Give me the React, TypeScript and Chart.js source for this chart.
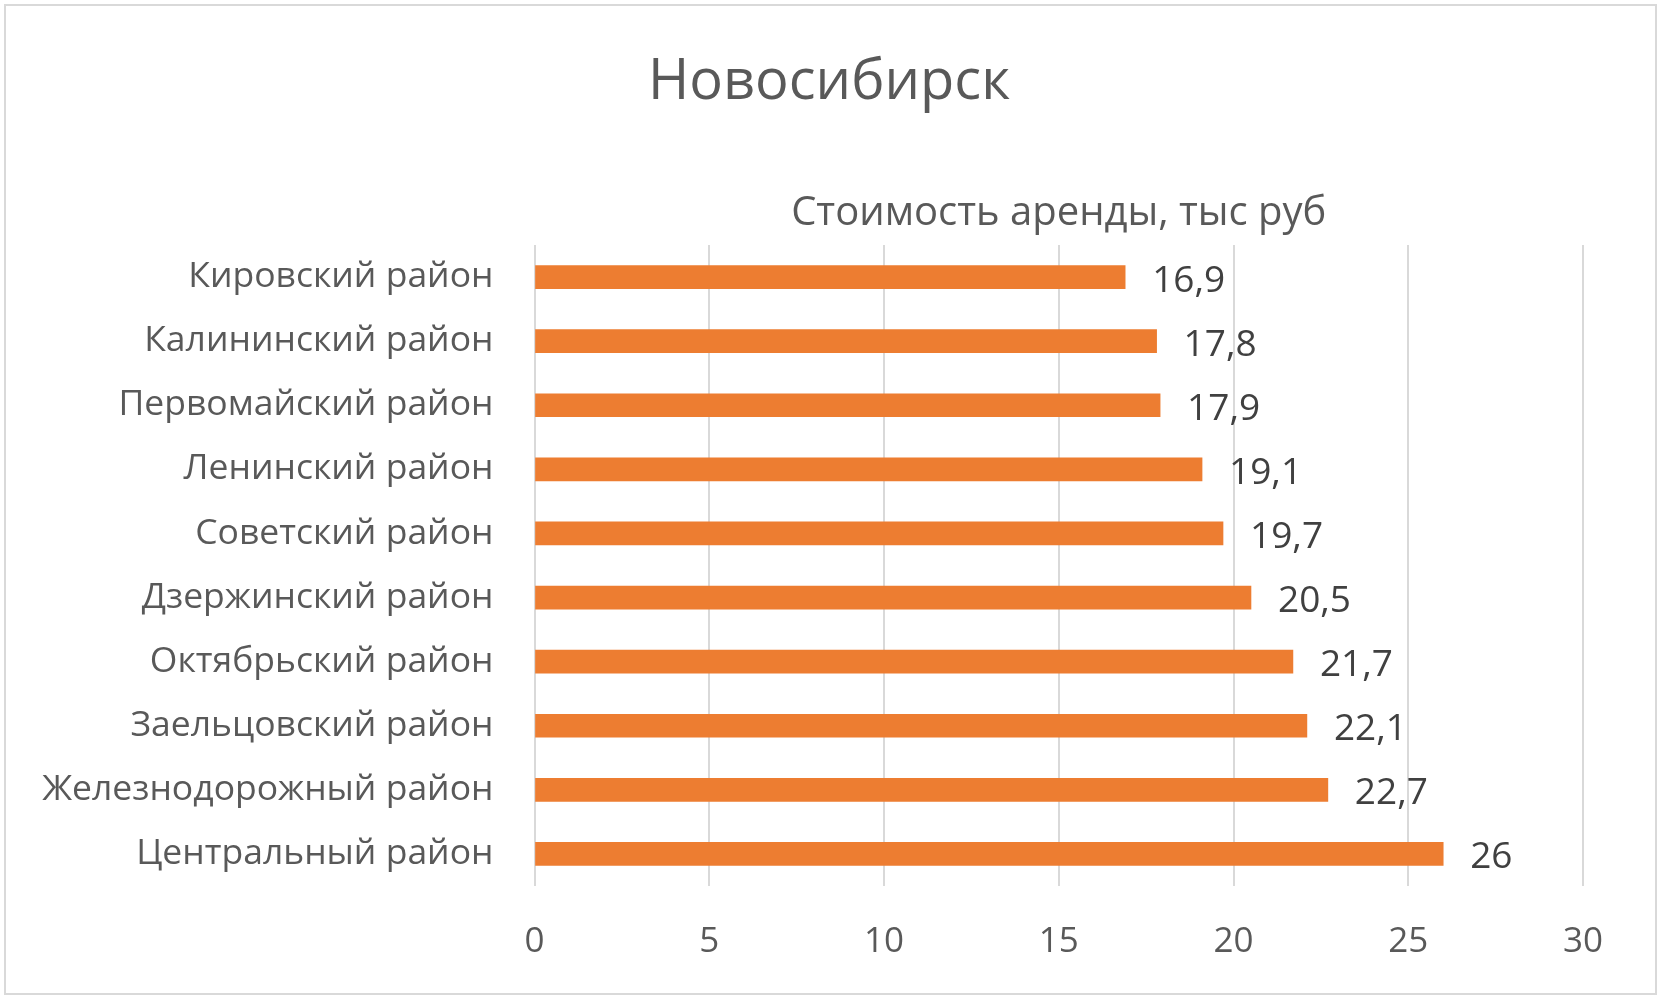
import React, { useEffect, useRef } from "react";
import { Chart, registerables } from "chart.js";

Chart.register(...registerables);

const chartTitle = "Новосибирск";
const axisTitle = "Стоимость аренды, тыс руб";
const categories = [
  "Кировский район",
  "Калининский район",
  "Первомайский район",
  "Ленинский район",
  "Советский район",
  "Дзержинский район",
  "Октябрьский район",
  "Заельцовский район",
  "Железнодорожный район",
  "Центральный район",
];
const rentValues = [16.9, 17.8, 17.9, 19.1, 19.7, 20.5, 21.7, 22.1, 22.7, 26];
const xMin = 0;
const xMax = 30;
const xStep = 5;

const FONT = "'Open Sans', 'Noto Sans', sans-serif";
const W = 1663;
const H = 1003;

const fmt = (v: number) => String(v).replace(".", ",");

const labelPlugin = {
  id: "valueLabels",
  afterDatasetsDraw(chart: any) {
    const ctx = chart.ctx;
    const meta = chart.getDatasetMeta(0);
    ctx.save();
    ctx.font = `37px ${FONT}`;
    ctx.fillStyle = "#404040";
    ctx.textAlign = "left";
    ctx.textBaseline = "middle";
    meta.data.forEach((bar: any, i: number) => {
      ctx.fillText(fmt(rentValues[i]), bar.x + 27, bar.y + 4);
    });
    const ca = chart.chartArea;
    ctx.fillStyle = "#595959";
    ctx.textAlign = "center";
    ctx.font = `40px ${FONT}`;
    ctx.fillText(axisTitle, (ca.left + ca.right) / 2, 214);
    ctx.font = `56px ${FONT}`;
    ctx.fillText(chartTitle, 829, 83);
    ctx.restore();
  },
};

export default function App() {
  const ref = useRef<HTMLCanvasElement | null>(null);
  useEffect(() => {
    if (!ref.current) return;
    const chart = new Chart(ref.current, {
      type: "bar",
      data: {
        labels: categories,
        datasets: [
          {
            data: rentValues,
            backgroundColor: "#ED7D31",
            borderWidth: 0,
            barThickness: 23,
          },
        ],
      },
      options: {
        indexAxis: "y",
        responsive: false,
        animation: false,
        layout: { padding: { left: 0, right: 80, top: 245, bottom: 0 } },
        plugins: {
          legend: { display: false },
          tooltip: { enabled: false },
          title: { display: false },
        },
        scales: {
          x: {
            min: xMin,
            max: xMax,
            ticks: {
              stepSize: xStep,
              color: "#595959",
              font: { family: FONT, size: 35 },
              padding: 35,
            },
            grid: { color: "#d9d9d9", lineWidth: 2, drawTicks: false },
            border: { display: false },
            afterFit: (s: any) => {
              s.height = 117;
            },
          },
          y: {
            ticks: {
              color: "#595959",
              font: { family: FONT, size: 35.5 },
              padding: 41,
            },
            grid: { display: false, drawTicks: false },
            border: { display: false },
            afterFit: (s: any) => {
              s.width = 534.5;
            },
          },
        },
      },
      plugins: [labelPlugin],
    });
    return () => chart.destroy();
  }, []);
  return (
    <>
      <canvas
        ref={ref}
        width={W}
        height={H}
        style={{ position: "fixed", left: 0, top: 0, width: W, height: H, background: "#fff" }}
      />
      <div
        style={{
          position: "fixed",
          left: 4,
          top: 4,
          width: 1653,
          height: 991,
          boxSizing: "border-box",
          border: "2px solid #d9d9d9",
          pointerEvents: "none",
        }}
      />
    </>
  );
}
